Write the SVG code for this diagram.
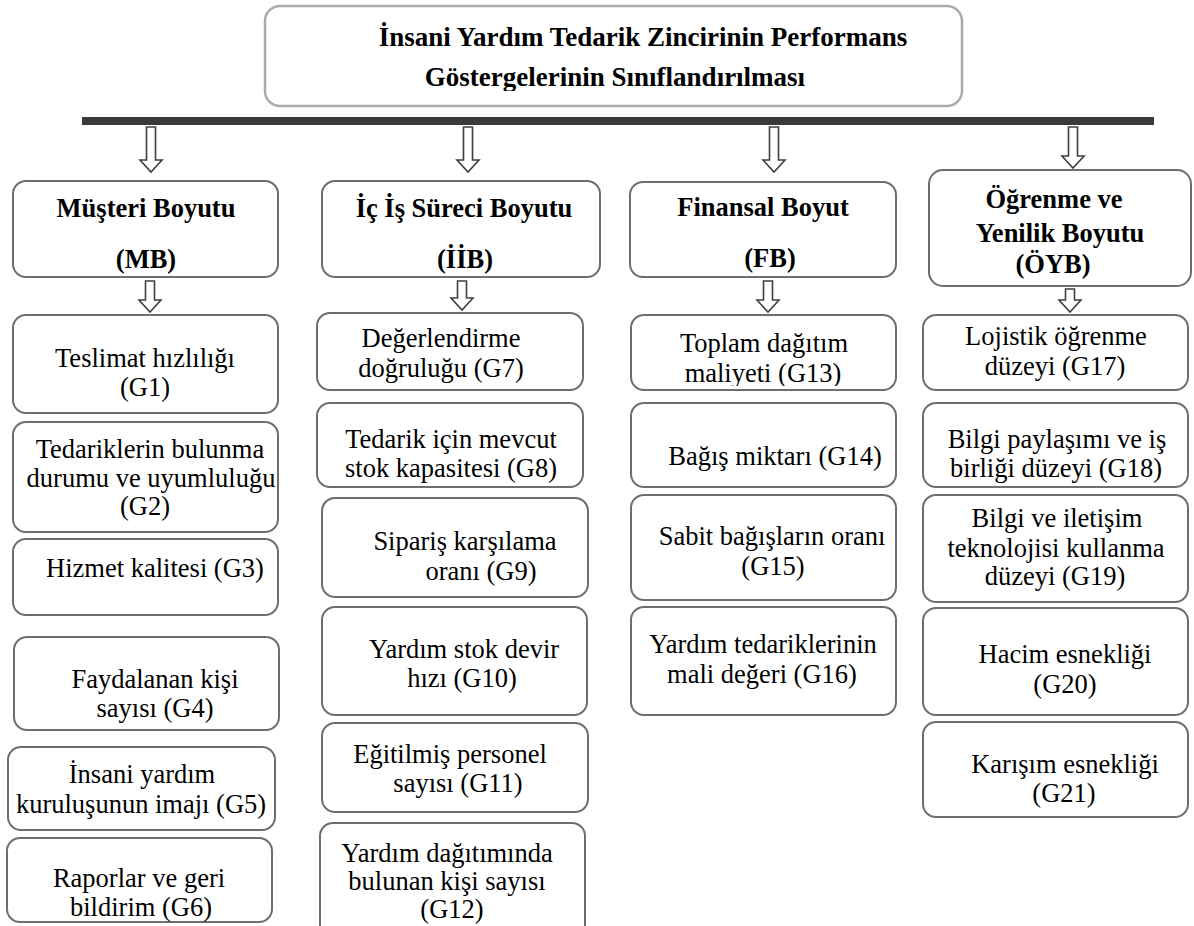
<svg xmlns="http://www.w3.org/2000/svg" width="1194" height="926" viewBox="0 0 1194 926">
  <defs>
    <style>
      .box { fill: #ffffff; stroke: #6e6e6e; stroke-width: 2; }
      .title-box { fill: #ffffff; stroke: #ababab; stroke-width: 2.5; }
      .bar { fill: #3b3939; }
      .arrow { fill: #ffffff; stroke: #3f3f3f; stroke-width: 1.6; stroke-linejoin: miter; }
    </style>
    <clipPath id="clip-title"><rect x="265" y="5" width="697" height="86"/></clipPath>
    <clipPath id="clip-g13"><rect x="631" y="315" width="265" height="71"/></clipPath>
  </defs>

  <!-- title -->
  <g id="title">
    <rect class="title-box" x="265" y="6" width="697" height="100" rx="15"/>
    <g clip-path="url(#clip-title)">
      <text font-family="'Liberation Serif', serif" font-size="27" font-weight="bold" text-anchor="middle" x="643" y="46">İnsani Yardım Tedarik Zincirinin Performans</text>
      <text font-family="'Liberation Serif', serif" font-size="27" font-weight="bold" text-anchor="middle" x="615" y="86">Göstergelerinin Sınıflandırılması</text>
    </g>
  </g>

  <!-- connectors: bar and hollow arrows -->
  <g id="connectors">
    <rect class="bar" x="82" y="117" width="1072" height="8"/>
    <path class="arrow" d="M146.5,127 H155.5 V160 H162 L151,172 L140,160 H146.5 Z"/>
    <path class="arrow" d="M463.5,127 H472.5 V160 H479 L468,172 L457,160 H463.5 Z"/>
    <path class="arrow" d="M769.5,127 H778.5 V160 H785 L774,172 L763,160 H769.5 Z"/>
    <path class="arrow" d="M1068.5,127 H1077.5 V156 H1084 L1073,168 L1062,156 H1068.5 Z"/>
    <path class="arrow" d="M145.5,281 H154.5 V300 H161 L150,312 L139,300 H145.5 Z"/>
    <path class="arrow" d="M457.5,281 H466.5 V298 H473 L462,310 L451,298 H457.5 Z"/>
    <path class="arrow" d="M763.5,281 H772.5 V300 H779 L768,312 L757,300 H763.5 Z"/>
    <path class="arrow" d="M1065.5,289 H1074.5 V300 H1081 L1070,312 L1059,300 H1065.5 Z"/>
  </g>

  <!-- Müşteri Boyutu column -->
  <g id="mb">
    <rect class="box" x="13" y="181" width="265" height="96" rx="13"/>
    <text font-family="'Liberation Serif', serif" font-size="26.5" font-weight="bold" text-anchor="middle" x="146" y="217">Müşteri Boyutu</text>
    <text font-family="'Liberation Serif', serif" font-size="26.5" font-weight="bold" text-anchor="middle" x="146" y="268">(MB)</text>
  </g>
  <g id="g1">
    <rect class="box" x="13" y="315" width="265" height="98" rx="13"/>
    <text font-family="'Liberation Serif', serif" font-size="26.5" text-anchor="middle" x="145" y="367">Teslimat hızlılığı</text>
    <text font-family="'Liberation Serif', serif" font-size="26.5" text-anchor="middle" x="145" y="396">(G1)</text>
  </g>
  <g id="g2">
    <rect class="box" x="13" y="422" width="265" height="110" rx="13"/>
    <text font-family="'Liberation Serif', serif" font-size="26.5" text-anchor="middle" x="150" y="458">Tedariklerin bulunma</text>
    <text font-family="'Liberation Serif', serif" font-size="26.5" text-anchor="middle" x="151" y="487">durumu ve uyumluluğu</text>
    <text font-family="'Liberation Serif', serif" font-size="26.5" text-anchor="middle" x="145" y="515">(G2)</text>
  </g>
  <g id="g3">
    <rect class="box" x="13" y="539" width="265" height="76" rx="13"/>
    <text font-family="'Liberation Serif', serif" font-size="26.5" text-anchor="middle" x="155" y="577">Hizmet kalitesi (G3)</text>
  </g>
  <g id="g4">
    <rect class="box" x="14" y="637" width="265" height="93" rx="13"/>
    <text font-family="'Liberation Serif', serif" font-size="26.5" text-anchor="middle" x="155" y="688">Faydalanan kişi</text>
    <text font-family="'Liberation Serif', serif" font-size="26.5" text-anchor="middle" x="155" y="717">sayısı (G4)</text>
  </g>
  <g id="g5">
    <rect class="box" x="8" y="747" width="267" height="83" rx="13"/>
    <text font-family="'Liberation Serif', serif" font-size="26.5" text-anchor="middle" x="142" y="783">İnsani yardım</text>
    <text font-family="'Liberation Serif', serif" font-size="26.5" text-anchor="middle" x="141" y="813">kuruluşunun imajı (G5)</text>
  </g>
  <g id="g6">
    <rect class="box" x="7" y="838" width="265" height="84" rx="13"/>
    <text font-family="'Liberation Serif', serif" font-size="26.5" text-anchor="middle" x="139" y="887">Raporlar ve geri</text>
    <text font-family="'Liberation Serif', serif" font-size="26.5" text-anchor="middle" x="141" y="916">bildirim (G6)</text>
  </g>

  <!-- İç İş Süreci Boyutu column -->
  <g id="iib">
    <rect class="box" x="322" y="181" width="278" height="96" rx="13"/>
    <text font-family="'Liberation Serif', serif" font-size="26.5" font-weight="bold" text-anchor="middle" x="464" y="217">İç İş Süreci Boyutu</text>
    <text font-family="'Liberation Serif', serif" font-size="26.5" font-weight="bold" text-anchor="middle" x="465" y="268">(İİB)</text>
  </g>
  <g id="g7">
    <rect class="box" x="317" y="313" width="266" height="77" rx="13"/>
    <text font-family="'Liberation Serif', serif" font-size="26.5" text-anchor="middle" x="441" y="347">Değerlendirme</text>
    <text font-family="'Liberation Serif', serif" font-size="26.5" text-anchor="middle" x="441" y="377">doğruluğu (G7)</text>
  </g>
  <g id="g8">
    <rect class="box" x="317" y="403" width="266" height="84" rx="13"/>
    <text font-family="'Liberation Serif', serif" font-size="26.5" text-anchor="middle" x="451" y="448">Tedarik için mevcut</text>
    <text font-family="'Liberation Serif', serif" font-size="26.5" text-anchor="middle" x="451" y="477">stok kapasitesi (G8)</text>
  </g>
  <g id="g9">
    <rect class="box" x="322" y="498" width="266" height="99" rx="13"/>
    <text font-family="'Liberation Serif', serif" font-size="26.5" text-anchor="middle" x="465" y="550">Sipariş karşılama</text>
    <text font-family="'Liberation Serif', serif" font-size="26.5" text-anchor="middle" x="481" y="580">oranı (G9)</text>
  </g>
  <g id="g10">
    <rect class="box" x="322" y="607" width="265" height="108" rx="13"/>
    <text font-family="'Liberation Serif', serif" font-size="26.5" text-anchor="middle" x="464" y="658">Yardım stok devir</text>
    <text font-family="'Liberation Serif', serif" font-size="26.5" text-anchor="middle" x="462" y="687">hızı (G10)</text>
  </g>
  <g id="g11">
    <rect class="box" x="322" y="723" width="266" height="89" rx="13"/>
    <text font-family="'Liberation Serif', serif" font-size="26.5" text-anchor="middle" x="450" y="763">Eğitilmiş personel</text>
    <text font-family="'Liberation Serif', serif" font-size="26.5" text-anchor="middle" x="458" y="792">sayısı (G11)</text>
  </g>
  <g id="g12">
    <rect class="box" x="320" y="823" width="265" height="115" rx="13"/>
    <text font-family="'Liberation Serif', serif" font-size="26.5" text-anchor="middle" x="447" y="862">Yardım dağıtımında</text>
    <text font-family="'Liberation Serif', serif" font-size="26.5" text-anchor="middle" x="447" y="890">bulunan kişi sayısı</text>
    <text font-family="'Liberation Serif', serif" font-size="26.5" text-anchor="middle" x="452" y="918">(G12)</text>
  </g>

  <!-- Finansal Boyut column -->
  <g id="fb">
    <rect class="box" x="630" y="182" width="266" height="95" rx="13"/>
    <text font-family="'Liberation Serif', serif" font-size="26.5" font-weight="bold" text-anchor="middle" x="763" y="216">Finansal Boyut</text>
    <text font-family="'Liberation Serif', serif" font-size="26.5" font-weight="bold" text-anchor="middle" x="770" y="267">(FB)</text>
  </g>
  <g id="g13">
    <rect class="box" x="631" y="315" width="265" height="75" rx="13"/>
    <text font-family="'Liberation Serif', serif" font-size="26.5" text-anchor="middle" x="764" y="352">Toplam dağıtım</text>
    <g clip-path="url(#clip-g13)"><text font-family="'Liberation Serif', serif" font-size="26.5" text-anchor="middle" x="763" y="382">maliyeti (G13)</text></g>
  </g>
  <g id="g14">
    <rect class="box" x="631" y="403" width="265" height="84" rx="13"/>
    <text font-family="'Liberation Serif', serif" font-size="26.5" text-anchor="middle" x="775" y="465">Bağış miktarı (G14)</text>
  </g>
  <g id="g15">
    <rect class="box" x="631" y="495" width="265" height="105" rx="13"/>
    <text font-family="'Liberation Serif', serif" font-size="26.5" text-anchor="middle" x="772" y="545">Sabit bağışların oranı</text>
    <text font-family="'Liberation Serif', serif" font-size="26.5" text-anchor="middle" x="773" y="575">(G15)</text>
  </g>
  <g id="g16">
    <rect class="box" x="631" y="607" width="265" height="108" rx="13"/>
    <text font-family="'Liberation Serif', serif" font-size="26.5" text-anchor="middle" x="763" y="653">Yardım tedariklerinin</text>
    <text font-family="'Liberation Serif', serif" font-size="26.5" text-anchor="middle" x="762" y="683">mali değeri (G16)</text>
  </g>

  <!-- Öğrenme ve Yenilik Boyutu column -->
  <g id="oyb">
    <rect class="box" x="929" y="170" width="262" height="116" rx="14"/>
    <text font-family="'Liberation Serif', serif" font-size="26.5" font-weight="bold" text-anchor="middle" x="1054" y="208">Öğrenme ve</text>
    <text font-family="'Liberation Serif', serif" font-size="26.5" font-weight="bold" text-anchor="middle" x="1060" y="242">Yenilik Boyutu</text>
    <text font-family="'Liberation Serif', serif" font-size="26.5" font-weight="bold" text-anchor="middle" x="1053" y="273">(ÖYB)</text>
  </g>
  <g id="g17">
    <rect class="box" x="923" y="315" width="265" height="75" rx="13"/>
    <text font-family="'Liberation Serif', serif" font-size="26.5" text-anchor="middle" x="1056" y="345">Lojistik öğrenme</text>
    <text font-family="'Liberation Serif', serif" font-size="26.5" text-anchor="middle" x="1055" y="375">düzeyi (G17)</text>
  </g>
  <g id="g18">
    <rect class="box" x="923" y="403" width="265" height="84" rx="13"/>
    <text font-family="'Liberation Serif', serif" font-size="26.5" text-anchor="middle" x="1057" y="448">Bilgi paylaşımı ve iş</text>
    <text font-family="'Liberation Serif', serif" font-size="26.5" text-anchor="middle" x="1056" y="477">birliği düzeyi (G18)</text>
  </g>
  <g id="g19">
    <rect class="box" x="923" y="495" width="265" height="107" rx="13"/>
    <text font-family="'Liberation Serif', serif" font-size="26.5" text-anchor="middle" x="1057" y="527">Bilgi ve iletişim</text>
    <text font-family="'Liberation Serif', serif" font-size="26.5" text-anchor="middle" x="1056" y="557">teknolojisi kullanma</text>
    <text font-family="'Liberation Serif', serif" font-size="26.5" text-anchor="middle" x="1055" y="585">düzeyi (G19)</text>
  </g>
  <g id="g20">
    <rect class="box" x="923" y="608" width="265" height="107" rx="13"/>
    <text font-family="'Liberation Serif', serif" font-size="26.5" text-anchor="middle" x="1065" y="663">Hacim esnekliği</text>
    <text font-family="'Liberation Serif', serif" font-size="26.5" text-anchor="middle" x="1065" y="693">(G20)</text>
  </g>
  <g id="g21">
    <rect class="box" x="923" y="722" width="265" height="95" rx="13"/>
    <text font-family="'Liberation Serif', serif" font-size="26.5" text-anchor="middle" x="1065" y="773">Karışım esnekliği</text>
    <text font-family="'Liberation Serif', serif" font-size="26.5" text-anchor="middle" x="1064" y="802">(G21)</text>
  </g>
</svg>
